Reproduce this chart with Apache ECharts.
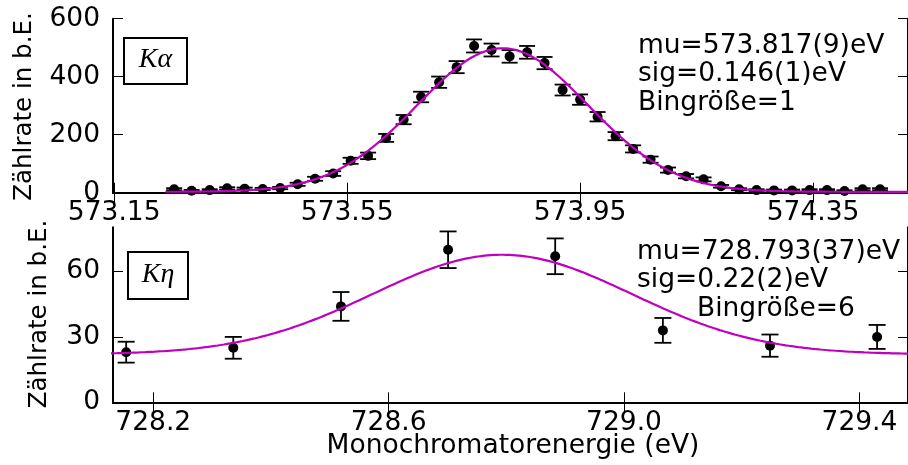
<!DOCTYPE html>
<html>
<head>
<meta charset="utf-8">
<script src="https://cdn.jsdelivr.net/npm/echarts@6/dist/echarts.min.js"></script>
<style>
  html, body { margin: 0; padding: 0; background: #fff; }
  #chart { width: 908px; height: 465px; }
</style>
</head>
<body>
<div id="chart"></div>
<script>
// K-alpha line: monochromator energy (eV), counts and their uncertainties
const kaEnergy = [
  573.253, 573.283, 573.314, 573.344, 573.374, 573.405, 573.435, 573.465, 573.495, 573.526,
  573.556, 573.586, 573.617, 573.647, 573.677, 573.708, 573.738, 573.768, 573.798, 573.829,
  573.859, 573.889, 573.920, 573.950, 573.980, 574.011, 574.041, 574.071, 574.101, 574.132,
  574.162, 574.192, 574.223, 574.253, 574.283, 574.314, 574.344, 574.374, 574.404, 574.435,
  574.465
];
const kaCounts = [
  12, 7, 9, 15, 14, 13, 16, 29, 48, 66,
  110, 127, 189, 252, 330, 381, 433, 506, 492, 470,
  484, 447, 354, 321, 262, 195, 151, 114, 78, 57,
  46, 22, 12, 9, 8, 8, 9, 9, 6, 12,
  12
];
const kaErr = [
  3.5, 2.6, 3.0, 3.9, 3.7, 3.6, 4.0, 5.4, 6.9, 8.1,
  10.5, 11.3, 13.7, 15.9, 18.2, 19.5, 20.8, 22.5, 22.2, 21.7,
  22.0, 21.1, 18.8, 17.9, 16.2, 14.0, 12.3, 10.7, 8.8, 7.5,
  6.8, 4.7, 3.5, 3.0, 2.8, 2.8, 3.0, 3.0, 2.4, 3.5,
  3.5
];
const kaTicksX = [573.15, 573.55, 573.95, 574.35];
const kaTicksY = [0, 200, 400, 600];

// K-eta line (bin size 6)
const keEnergy = [728.154, 728.336, 728.519, 728.701, 728.883, 729.066, 729.248, 729.430];
const keCounts = [23, 25, 44, 70, 67, 33, 26, 30];
const keErr = [4.8, 5.0, 6.6, 8.4, 8.2, 5.7, 5.1, 5.5];
const keTicksX = [728.2, 728.6, 729.0, 729.4];
const keTicksY = [0, 30, 60];

// Gaussian fit parameters
const kaMu = 573.817, kaSigma = 0.146, kaAmp = 495, kaOffset = 3;
const keMu = 728.793, keSigma = 0.22, keAmp = 45.7, keOffset = 22.0;

function gaussCurve(mu, sigma, amp, offset, from, to, n) {
  const pts = [];
  for (let i = 0; i <= n; i++) {
    const x = from + (to - from) * i / n;
    const d = (x - mu) / sigma;
    pts.push([x, offset + amp * Math.exp(-0.5 * d * d)]);
  }
  return pts;
}

const FONT = '"DejaVu Sans"';
const FS = 26.5;
const MAG = '#bf00bf';

function errorBarItem(cap) {
  return function (params, api) {
    const x = api.value(0), y = api.value(1), e = api.value(2);
    const hi = api.coord([x, y + e]);
    const lo = api.coord([x, y - e]);
    const st = { stroke: '#000', lineWidth: 1.8 };
    return {
      type: 'group',
      children: [
        { type: 'line', shape: { x1: hi[0], y1: hi[1], x2: lo[0], y2: lo[1] }, style: st },
        { type: 'line', shape: { x1: hi[0] - cap, y1: hi[1], x2: hi[0] + cap, y2: hi[1] }, style: st },
        { type: 'line', shape: { x1: lo[0] - cap, y1: lo[1], x2: lo[0] + cap, y2: lo[1] }, style: st }
      ]
    };
  };
}

function xAxisPair(gridIndex, min, max, ticks, digits) {
  const line = { lineStyle: { color: '#000', width: 2 } };
  const tick = { inside: true, length: 10, lineStyle: { color: '#000', width: 1 }, customValues: ticks };
  return [
    {
      type: 'value', gridIndex, min, max, position: 'bottom',
      axisLine: line, axisTick: tick, splitLine: { show: false },
      axisLabel: {
        customValues: ticks, fontSize: FS, color: '#000', fontFamily: FONT, margin: 7,
        formatter: v => v.toFixed(digits)
      }
    },
    {
      type: 'value', gridIndex, min, max, position: 'top',
      axisLine: line, axisTick: tick, splitLine: { show: false },
      axisLabel: { show: false }
    }
  ];
}

function yAxisPair(gridIndex, min, max, ticks) {
  const line = { lineStyle: { color: '#000', width: 2 } };
  const tick = { inside: true, length: 10, lineStyle: { color: '#000', width: 1 }, customValues: ticks };
  return [
    {
      type: 'value', gridIndex, min, max, position: 'left',
      axisLine: line, axisTick: tick, splitLine: { show: false },
      axisLabel: { customValues: ticks, fontSize: FS, color: '#000', fontFamily: FONT, margin: 13 }
    },
    {
      type: 'value', gridIndex, min, max, position: 'right',
      axisLine: line, axisTick: tick, splitLine: { show: false },
      axisLabel: { show: false }
    }
  ];
}

const kaPoints = kaEnergy.map((x, i) => [x, kaCounts[i], kaErr[i]]);
const kePoints = keEnergy.map((x, i) => [x, keCounts[i], keErr[i]]);

function statText(x, y, text) {
  return {
    type: 'text', x, y, z: 100,
    style: { text, font: FS + 'px ' + FONT, fill: '#000', align: 'left', verticalAlign: 'middle' }
  };
}

function labelBox(x, y, w, h, text) {
  return [
    { type: 'rect', shape: { x, y, width: w, height: h }, style: { fill: '#fff', stroke: '#000', lineWidth: 2 }, z: 100 },
    {
      type: 'text', x: x + w / 2, y: y + h / 2 - 1, z: 101,
      style: { text, font: 'italic 28px "Liberation Serif"', fill: '#000', align: 'center', verticalAlign: 'middle' }
    }
  ];
}

const chart = echarts.init(document.getElementById('chart'), null, { renderer: 'canvas' });

chart.setOption({
  animation: false,
  backgroundColor: '#fff',
  textStyle: { fontFamily: FONT },
  grid: [
    { left: 113, top: 18.7, width: 802, height: 174 },
    { left: 113, top: 227.3, width: 802, height: 175 }
  ],
  xAxis: [
    ...xAxisPair(0, 573.148, 574.513, kaTicksX, 2),
    ...xAxisPair(1, 728.1316, 729.4825, keTicksX, 1)
  ],
  yAxis: [
    ...yAxisPair(0, 0, 600, kaTicksY),
    ...yAxisPair(1, 0, 80.3, keTicksY)
  ],
  series: [
    {
      type: 'custom', xAxisIndex: 0, yAxisIndex: 0, data: kaPoints,
      encode: { x: 0, y: 1 }, renderItem: errorBarItem(8), z: 2
    },
    {
      type: 'scatter', xAxisIndex: 0, yAxisIndex: 0, data: kaPoints.map(p => [p[0], p[1]]),
      symbol: 'circle', symbolSize: 10, itemStyle: { color: '#000', opacity: 1 }, z: 3
    },
    {
      type: 'line', xAxisIndex: 0, yAxisIndex: 0, showSymbol: false, smooth: false, z: 4,
      data: gaussCurve(kaMu, kaSigma, kaAmp, kaOffset, 573.238, 574.52, 300),
      lineStyle: { color: MAG, width: 2.2 }
    },
    {
      type: 'custom', xAxisIndex: 2, yAxisIndex: 2, data: kePoints,
      encode: { x: 0, y: 1 }, renderItem: errorBarItem(8.5), z: 2
    },
    {
      type: 'scatter', xAxisIndex: 2, yAxisIndex: 2, data: kePoints.map(p => [p[0], p[1]]),
      symbol: 'circle', symbolSize: 10, itemStyle: { color: '#000', opacity: 1 }, z: 3
    },
    {
      type: 'line', xAxisIndex: 2, yAxisIndex: 2, showSymbol: false, smooth: false, z: 4,
      data: gaussCurve(keMu, keSigma, keAmp, keOffset, 728.0, 729.6, 300),
      lineStyle: { color: MAG, width: 2.2 }
    }
  ],
  graphic: [
    ...labelBox(124, 38, 63, 46, 'Kα'),
    ...labelBox(128, 252, 60, 47, 'Kη'),
    statText(638, 46.5, 'mu=573.817(9)eV'),
    statText(638, 74.5, 'sig=0.146(1)eV'),
    statText(638, 103, 'Bingröße=1'),
    statText(637, 252, 'mu=728.793(37)eV'),
    statText(637, 280.5, 'sig=0.22(2)eV'),
    statText(697, 309, 'Bingröße=6'),
    {
      type: 'text', x: 25, y: 106.5, rotation: Math.PI / 2,
      style: { text: 'Zählrate in b.E.', font: '24.5px ' + FONT, fill: '#000', align: 'center', verticalAlign: 'middle' }
    },
    {
      type: 'text', x: 40, y: 314, rotation: Math.PI / 2,
      style: { text: 'Zählrate in b.E.', font: '24.5px ' + FONT, fill: '#000', align: 'center', verticalAlign: 'middle' }
    },
    {
      type: 'text', x: 513, y: 446,
      style: { text: 'Monochromatorenergie (eV)', font: FS + 'px ' + FONT, fill: '#000', align: 'center', verticalAlign: 'middle' }
    }
  ]
});
</script>
</body>
</html>
